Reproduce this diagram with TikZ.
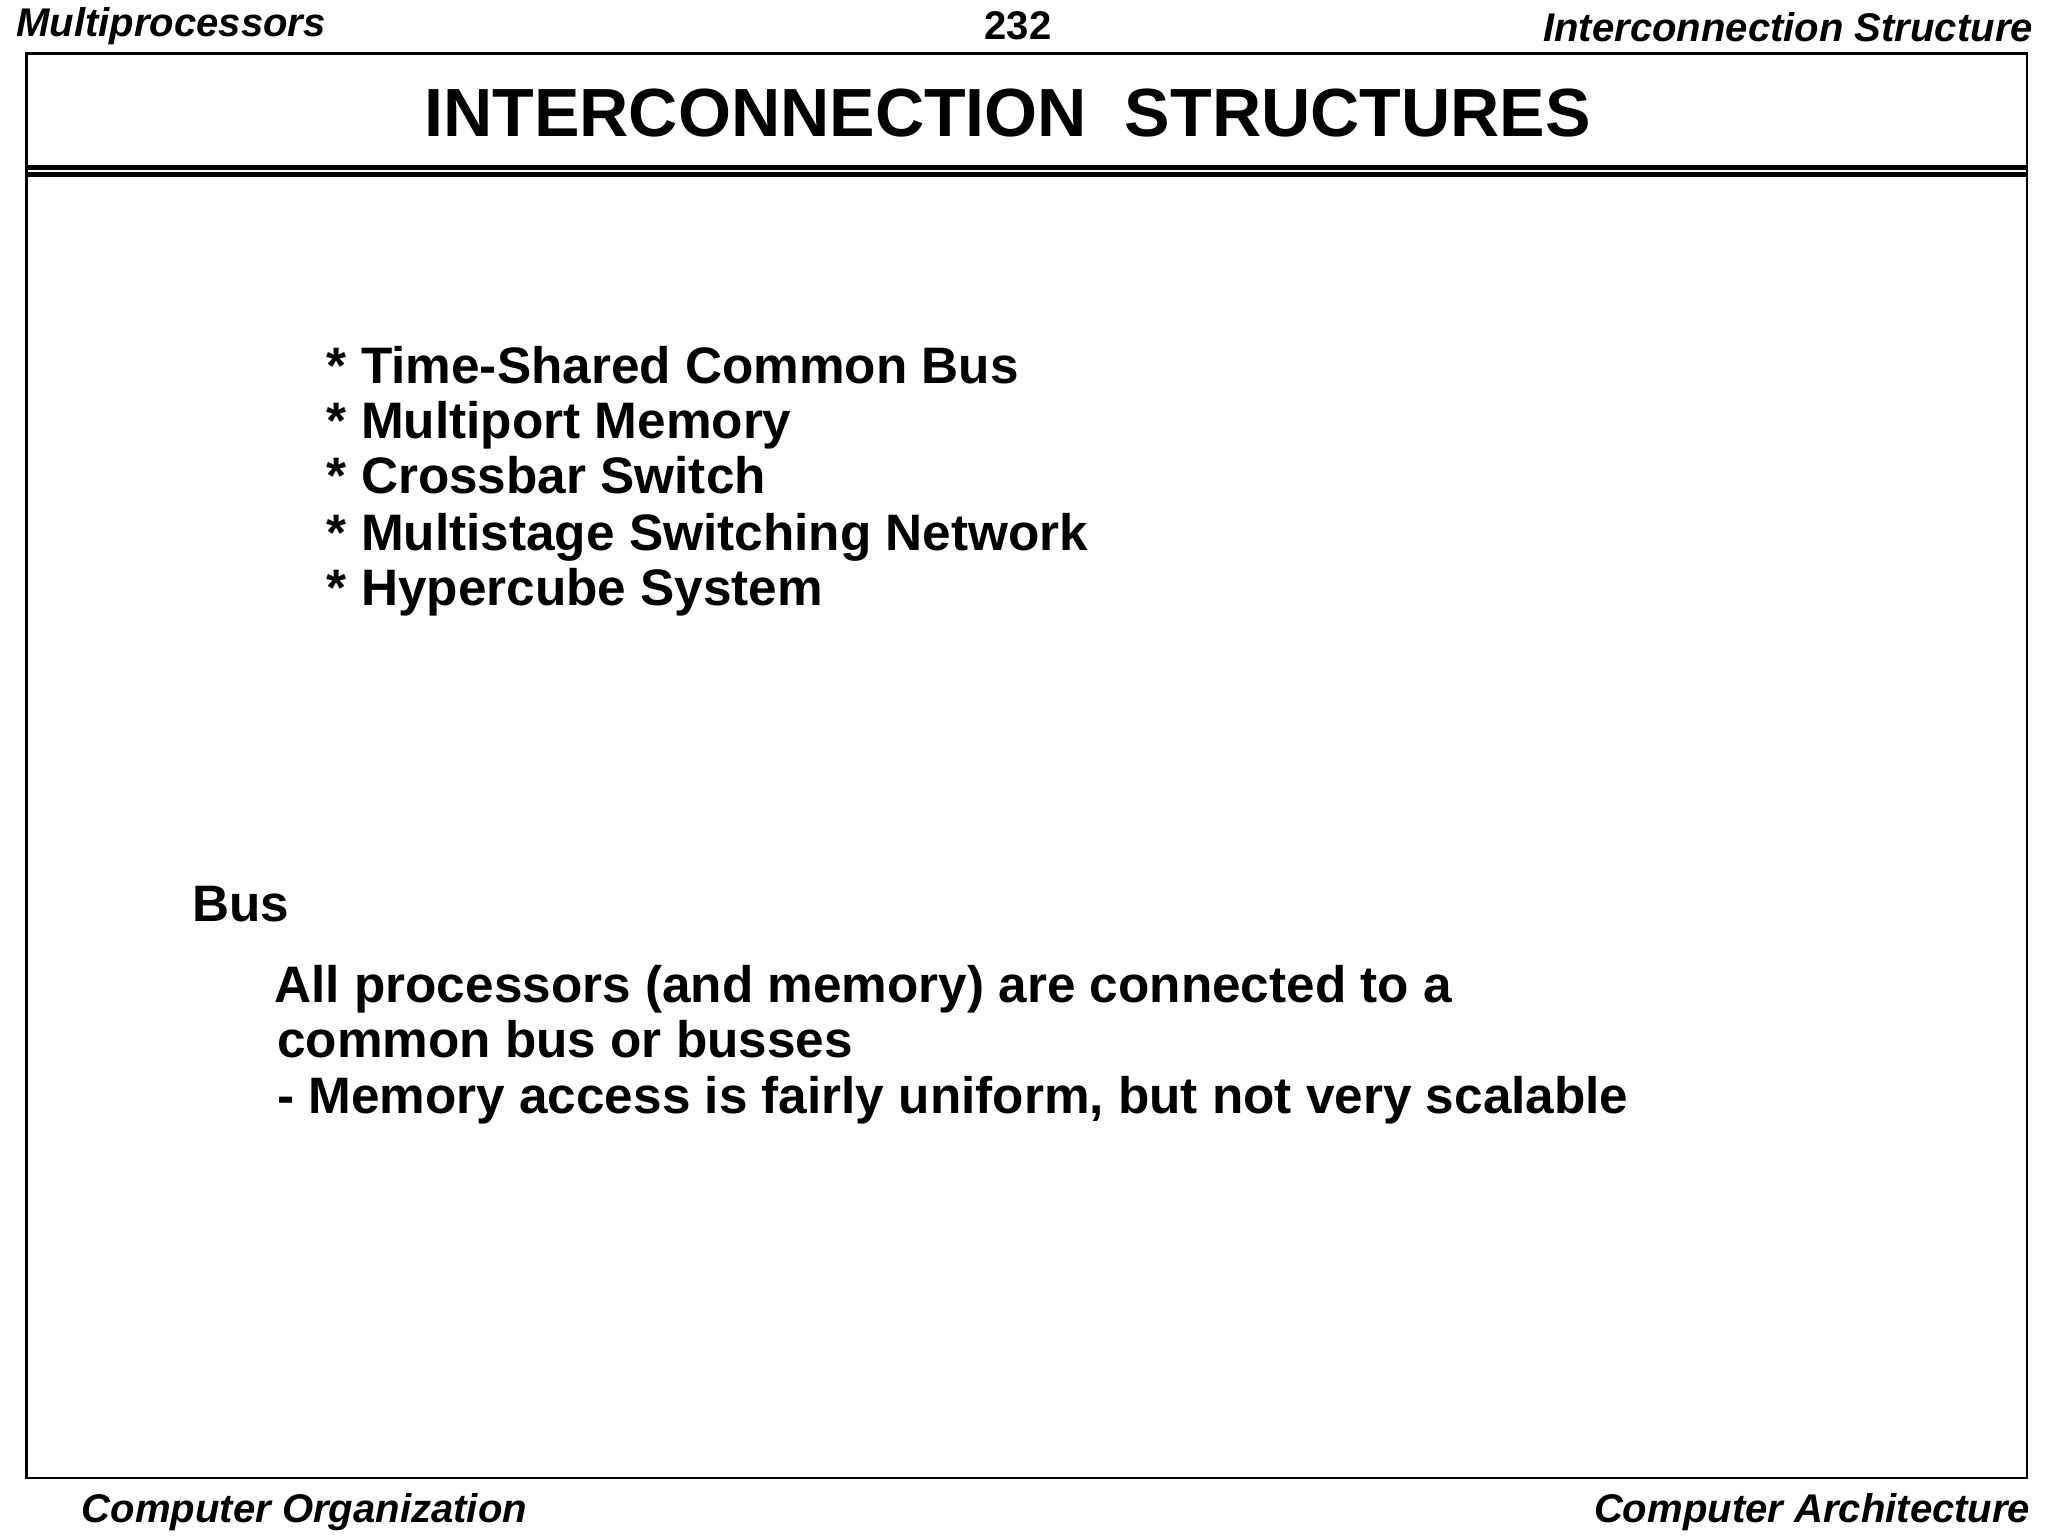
\documentclass[tikz,border=0pt]{standalone}
\usepackage{fontspec}
\setmainfont{Liberation Sans}
\begin{document}
\begin{tikzpicture}[x=0.013103cm,y=-0.013103cm,
  hdr/.style={font=\fontsize{11.4}{14}\selectfont\bfseries\itshape,inner sep=0},
  body/.style={font=\fontsize{14.6}{18}\selectfont\bfseries,inner sep=0,anchor=base west}]
\useasboundingbox (0,0) rectangle (1563,1172);
\draw[line width=0.8pt] (20,41) rectangle (1547,1128);
\draw[line width=1.5pt] (20,128) -- (1547,128);
\draw[line width=1.5pt] (20,133) -- (1547,133);
\node[hdr,anchor=base west] (h1) at (12,28) {Multiprocessors};
\node[hdr,anchor=base,font=\fontsize{11.4}{14}\selectfont\bfseries] (h2) at (777,30) {232};
\node[hdr,anchor=base east] (h3) at (1552,32) {Interconnection Structure};
\node[inner sep=0,anchor=base,font=\fontsize{19.4}{24}\selectfont\bfseries] (title) at (769,104) {INTERCONNECTION\ \ STRUCTURES};
\node[body] (b1) at (249,293) {* Time-Shared Common Bus};
\node[body] (b2) at (249,335) {* Multiport Memory};
\node[body] (b3) at (249,377) {* Crossbar Switch};
\node[body] (b4) at (249,420) {* Multistage Switching Network};
\node[body] (b5) at (249,462) {* Hypercube System};
\node[body] (bus) at (146,703) {Bus};
\node[body] (p1) at (209,765) {All processors (and memory) are connected to a};
\node[body] (p2) at (211,807) {common bus or busses};
\node[body] (p3) at (211,850) {- Memory access is fairly uniform, but not very scalable};
\node[hdr,anchor=base west] (f1) at (62,1162) {Computer Organization};
\node[hdr,anchor=base east] (f2) at (1550,1162) {Computer Architecture};
\end{tikzpicture}
\end{document}
